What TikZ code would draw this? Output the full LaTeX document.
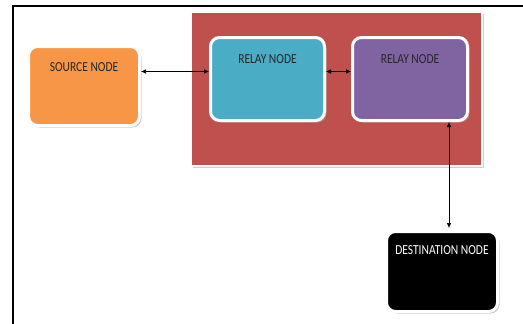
\documentclass[tikz,border=0pt]{standalone}
\usepackage{fontspec}
\setmainfont{Carlito}
\usetikzlibrary{arrows.meta,shadows}
\definecolor{srcorange}{HTML}{F79646}
\definecolor{relayblue}{HTML}{4BACC6}
\definecolor{relaypurple}{HTML}{8064A2}
\definecolor{groupred}{HTML}{C0504D}
\definecolor{txtdark}{HTML}{262626}
\begin{document}
\begin{tikzpicture}[x=1pt,y=-1pt,
  nodebox/.style={draw=white, line width=3pt, rounded corners=9pt, inner xsep=0pt, inner ysep=0pt,
    text depth=0pt, anchor=center,
    font=\fontsize{11.5}{13}\selectfont,
    drop shadow={shadow xshift=2pt, shadow yshift=-2pt, fill=black!35, opacity=0.6}},
  lbl/.style={},
  conn/.style={line width=0.6pt, {Latex[length=5pt,width=4.5pt]}-{Latex[length=5pt,width=4.5pt]}}
]
\useasboundingbox (0,0) rectangle (523,324);
\fill[white] (0,0) rectangle (523,324);
% outer frame
\draw[line width=2pt] (13,324) -- (13,6) -- (523,6);
% group box
\node[draw=white, line width=2pt, fill=groupred, minimum width=291pt, minimum height=154pt, inner sep=0pt,
  drop shadow={shadow xshift=2pt, shadow yshift=-2pt, fill=black!30, opacity=0.6}] (group) at (336.5,89) {};
% nodes
\node[nodebox, fill=srcorange, text=txtdark, minimum width=111pt, text height=25pt, text depth=54pt] (source) at (84,86)
  {\scalebox{1}[1.2]{SOURCE NODE}};
\node[nodebox, fill=relayblue, text=txtdark, minimum width=114pt, text height=26pt, text depth=57pt] (relay1) at (267.5,79)
  {\scalebox{1}[1.2]{RELAY NODE}};
\node[nodebox, fill=relaypurple, text=txtdark, minimum width=115pt, text height=26pt, text depth=57pt] (relay2) at (410,79)
  {\scalebox{1}[1.2]{RELAY NODE}};
\node[nodebox, fill=black, text=white, minimum width=111pt, text height=22.5pt, text depth=57.5pt] (dest) at (442,271.5)
  {\scalebox{1}[1.2]{DESTINATION NODE}};
% connectors
\draw[conn] ([yshift=14.5pt]source.east) -- ([yshift=7.5pt]relay1.west);
\draw[conn] ([yshift=7.5pt]relay1.east) -- ([yshift=7.5pt]relay2.west);
\draw[conn] ([xshift=39pt]relay2.south) -- ([xshift=7pt,yshift=2pt]dest.north);
\end{tikzpicture}
\end{document}
